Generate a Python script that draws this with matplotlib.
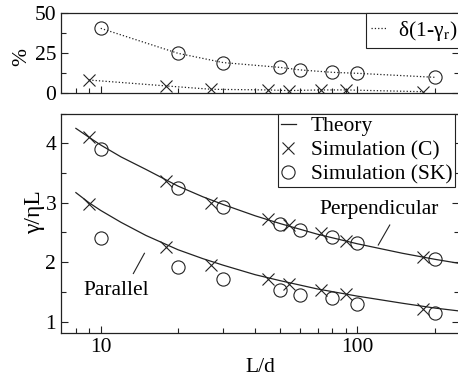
import matplotlib
matplotlib.use("Agg")
import matplotlib.pyplot as plt
from matplotlib.ticker import FixedLocator, NullFormatter, MultipleLocator

plt.rcParams['font.family'] = ['Liberation Serif', 'DejaVu Serif']
plt.rcParams['mathtext.fontset'] = 'stix'
plt.rcParams['font.size'] = 15.5

# aspect ratio L/d
x_sk = [10, 20, 30, 50, 60, 80, 100, 200]
x_c = [9, 18, 27, 45, 54, 72, 90, 180]

# friction coefficient gamma / (eta L)
perp_sk = [3.91, 3.24, 2.93, 2.64, 2.54, 2.42, 2.32, 2.05]
para_sk = [2.41, 1.92, 1.71, 1.54, 1.45, 1.39, 1.30, 1.14]
perp_c = [4.11, 3.36, 3.00, 2.73, 2.63, 2.49, 2.36, 2.09]
para_c = [2.98, 2.25, 1.95, 1.71, 1.64, 1.54, 1.46, 1.22]

# theory curves
x_th = [8, 9, 10, 12, 15, 20, 25, 30, 40, 50, 70, 100, 150, 200, 250]
perp_th = [4.25, 4.10, 3.97, 3.77, 3.56, 3.28, 3.10, 2.97, 2.78, 2.65, 2.47, 2.31, 2.15, 2.05, 1.98]
para_th = [3.17, 3.00, 2.87, 2.67, 2.45, 2.21, 2.06, 1.95, 1.79, 1.69, 1.55, 1.43, 1.31, 1.23, 1.18]

# relative deviation in %
dev_sk = [40.6, 25.0, 19.2, 16.2, 14.6, 13.1, 12.5, 10.0]
dev_c = [8.3, 4.6, 2.5, 2.1, 1.7, 2.1, 2.1, 1.0]

ink = '#222222'
W, H = 458, 380
fig = plt.figure(figsize=(W / 100, H / 100), dpi=100)
left = 61 / W
width = 398.4 / W
ax1 = fig.add_axes([left, (H - 93.3) / H, width, 80 / H])
ax2 = fig.add_axes([left, (H - 333) / H, width, 219.5 / H])

minors = [8, 9, 20, 30, 40, 50, 60, 70, 80, 90, 200]
for ax in (ax1, ax2):
    ax.set_xscale('log')
    ax.set_xlim(7, 250)
    ax.xaxis.set_major_locator(FixedLocator([10, 100]))
    ax.xaxis.set_minor_locator(FixedLocator(minors))
    ax.xaxis.set_minor_formatter(NullFormatter())
    ax.tick_params(which='both', direction='in', top=False, right=True,
                   color=ink, width=0.8, pad=3.5)
    ax.tick_params(which='major', length=5)
    ax.tick_params(which='minor', length=3.5)
    for s in ax.spines.values():
        s.set_color(ink)
        s.set_linewidth(0.9)

# top panel
ax1.plot(x_sk, dev_sk, ls=':', color=ink, lw=0.9, label=r'δ(1-γ$_{\rm r}$)')
ax1.plot(x_sk, dev_sk, ls='none', marker='o', ms=9.5, mfc='none', mec=ink, mew=0.8)
ax1.plot(x_c, dev_c, ls=':', color=ink, lw=0.9)
ax1.plot(x_c, dev_c, ls='none', marker='x', ms=9, mec=ink, mew=0.8)
ax1.set_ylim(0, 50)
ax1.set_yticks([0, 25, 50])
ax1.yaxis.set_minor_locator(MultipleLocator(12.5))
ax1.set_xticklabels([])
ax1.set_ylabel('%')
ax1.yaxis.set_label_coords(-0.075, 0.45)
leg1 = ax1.legend(loc='upper left', bbox_to_anchor=(0.7648, 1.0), borderaxespad=0,
                  fancybox=False, framealpha=1, edgecolor=ink, borderpad=0.25,
                  handlelength=0.75, handletextpad=0.5, fontsize=15.5)
leg1.get_frame().set_linewidth(0.8)

# bottom panel
ax2.plot(x_th, perp_th, color=ink, lw=0.9, label='Theory')
ax2.plot(x_th, para_th, color=ink, lw=0.9)
ax2.plot(x_c, perp_c, ls='none', marker='x', ms=9, mec=ink, mew=0.8, label='Simulation (C)')
ax2.plot(x_c, para_c, ls='none', marker='x', ms=9, mec=ink, mew=0.8)
ax2.plot(x_sk, perp_sk, ls='none', marker='o', ms=9.5, mfc='none', mec=ink, mew=0.8,
         label='Simulation (SK)')
ax2.plot(x_sk, para_sk, ls='none', marker='o', ms=9.5, mfc='none', mec=ink, mew=0.8)
ax2.set_ylim(0.81, 4.5)
ax2.set_yticks([1, 2, 3, 4])
ax2.yaxis.set_minor_locator(MultipleLocator(0.5))
ax2.set_xticklabels(['10', '100'])
ax2.set_xlabel('L/d', labelpad=1)
ax2.set_ylabel('γ/ηL', fontsize=17)
ax2.yaxis.set_label_coords(-0.04, 0.55)

ax2.text(121.5, 2.88, 'Perpendicular', ha='center', va='center')
ax2.plot([133.8, 120.7], [2.625, 2.289], color=ink, lw=0.8)
ax2.text(11.5, 1.53, 'Parallel', ha='center', va='center')
ax2.plot([14.8, 13.4], [2.15, 1.81], color=ink, lw=0.8)

leg2 = ax2.legend(loc='upper left', bbox_to_anchor=(0.5447, 1.0), borderaxespad=0,
                  fancybox=False, framealpha=1, edgecolor=ink, borderpad=0.12,
                  handlelength=0.7, handletextpad=0.7, labelspacing=0.18,
                  fontsize=15.5)
leg2.get_frame().set_linewidth(0.8)

fig.savefig('out.png', dpi=100)
